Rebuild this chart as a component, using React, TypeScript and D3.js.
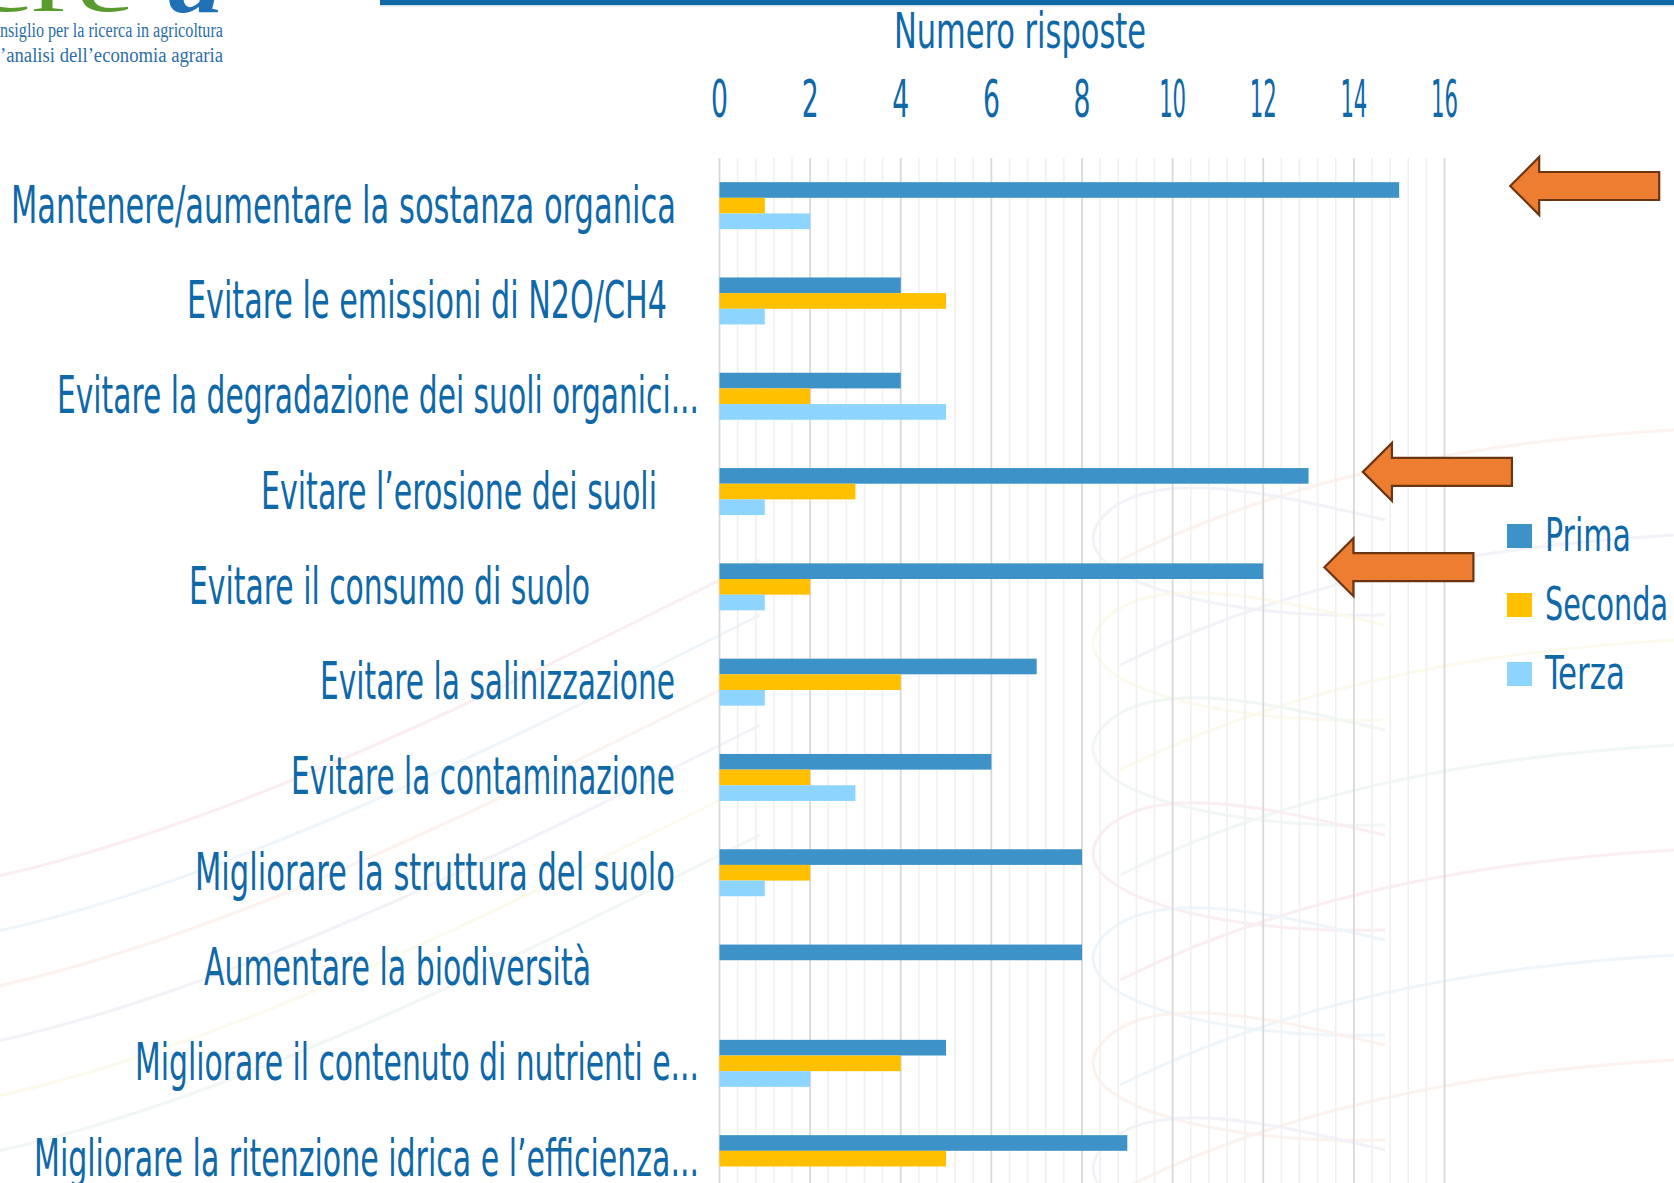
import React, { useEffect } from 'react';
import * as d3 from 'd3';

// data
const categories = [
  'Mantenere/aumentare la sostanza organica',
  'Evitare le emissioni di N2O/CH4',
  'Evitare la degradazione dei suoli organici...',
  'Evitare l’erosione dei suoli',
  'Evitare il consumo di suolo',
  'Evitare la salinizzazione',
  'Evitare la contaminazione',
  'Migliorare la struttura del suolo',
  'Aumentare la biodiversità',
  'Migliorare il contenuto di nutrienti e...',
  'Migliorare la ritenzione idrica e l’efficienza...',
];
const prima = [15, 4, 4, 13, 12, 7, 6, 8, 8, 5, 9];
const seconda = [1, 5, 2, 3, 2, 4, 2, 2, 0, 4, 5];
const terza = [2, 1, 5, 1, 1, 1, 3, 1, 0, 2, 0];
const seriesNames = ['Prima', 'Seconda', 'Terza'];
const xTicks = [0, 2, 4, 6, 8, 10, 12, 14, 16];
const axisTitle = 'Numero risposte';
// arrows: category index and where the tip sits on the value axis
const arrowCats = [0, 3, 4];
const arrowAt = [17.45, 14.2, 13.35];

const W = 1674;
const H = 1183;
const COLORS = ['#3d93c7', '#ffc000', '#8dd4fe'];
const TEXT = '#0f69a8';
const FONT = "'Liberation Sans Narrow', 'DejaVu Sans Condensed', 'Roboto Condensed', 'Liberation Sans', 'DejaVu Sans', sans-serif";

// left/right extents of the category labels (they carry trailing blanks in the source)
const labelBox: [number, number][] = [
  [11, 676], [187, 667], [57, 699], [261, 657], [189, 590], [320, 675],
  [291, 675], [195, 675], [204, 591], [135, 699], [34, 699],
];

const App = () => {
  useEffect(() => {
    document.body.style.margin = '0';
  }, []);

  const x = d3.scaleLinear().domain([0, 16]).range([719.5, 1444.5]);
  const step = 95.3;
  const y = d3.scaleBand<number>()
    .domain(d3.range(categories.length))
    .range([158, 158 + step * categories.length])
    .paddingInner(0.507)
    .paddingOuter(0.2535);
  const ySub = d3.scaleBand<number>().domain([0, 1, 2]).range([0, y.bandwidth()]);
  const series = [prima, seconda, terza];

  const minor = d3.range(0, 41).map(i => i * 0.4);

  // faint decorative swirls of the slide template
  const swirlColors = ['#f3c6cf', '#c9e2f4', '#f6d3c4', '#d8d4ec', '#f7ecc0', '#cfe3d5'];
  const leftSwirls = [0, 1, 2, 3, 4, 5].map(i => {
    const o = i * 55;
    return `M -20 ${880 + o} C 220 ${830 + o}, 480 ${700 + o}, 760 ${560 + o}`;
  });
  const rightSwirls = [0, 1, 2, 3, 4, 5, 6].map(i => {
    const o = i * 105;
    return `M 1120 ${560 + o} C 1300 ${470 + o}, 1500 ${440 + o}, 1674 ${430 + o}`;
  });
  // open loops: start on the right, sweep round the left and come back flat
  const loops = [0, 1, 2, 3, 4, 5, 6].map(i => {
    const cy = 560 + i * 105;
    return `M 1385 ${cy + 55} C 1200 ${cy + 60}, 1040 ${cy + 10}, 1110 ${cy - 50} C 1160 ${cy - 90}, 1260 ${cy - 70}, 1385 ${cy - 40}`;
  });

  const arrowPath = (tx: number, ty: number) =>
    `M ${tx} ${ty} L ${tx + 29} ${ty - 29} L ${tx + 29} ${ty - 14} L ${tx + 149} ${ty - 14} ` +
    `L ${tx + 149} ${ty + 14} L ${tx + 29} ${ty + 14} L ${tx + 29} ${ty + 29} Z`;

  return (
    <svg width={W} height={H} style={{ display: 'block', background: '#fff' }} fontFamily={FONT}>
      {/* template background */}
      <g fill="none" strokeWidth={3} opacity={0.28}>
        {leftSwirls.map((d, i) => <path key={'l' + i} d={d} stroke={swirlColors[i % 6]} />)}
        {rightSwirls.map((d, i) => <path key={'r' + i} d={d} stroke={swirlColors[(i + 2) % 6]} />)}
        {loops.map((d, i) => <path key={'e' + i} d={d} stroke={swirlColors[(i + 3) % 6]} />)}
      </g>

      {/* header */}
      <rect x={380} y={0} width={W - 380} height={5} fill="#1368a8" />
      <rect x={380} y={5} width={W - 380} height={1.5} fill="#cfe2f0" />
      <g fontFamily="'Liberation Serif', 'DejaVu Serif', serif">
        <text x={-28} y={11} fontSize={80} fill="#5a9b2f" textLength={163} lengthAdjust="spacingAndGlyphs">cre</text>
        <text x={168} y={12} fontSize={80} fontWeight="bold" fontStyle="italic" fill="#1f70b4" textLength={55} lengthAdjust="spacingAndGlyphs">a</text>
        <text x={0} y={37} fontSize={20} fill="#2b6ea6" textLength={223} lengthAdjust="spacingAndGlyphs">nsiglio per la ricerca in agricoltura</text>
        <text x={0} y={62} fontSize={20} fill="#2b6ea6" textLength={223} lengthAdjust="spacingAndGlyphs">’analisi  dell’economia  agraria</text>
      </g>

      {/* grid */}
      <g>
        {minor.map((v, i) => (
          <line key={i} x1={x(v)} x2={x(v)} y1={158} y2={H}
            stroke={i % 5 === 0 ? '#d9d9d9' : '#f0f0f0'} strokeWidth={i % 5 === 0 ? 1.8 : 1.6} />
        ))}
      </g>

      {/* axis title and ticks */}
      <text x={1020} y={47.5} fontSize={49} fill={TEXT} textAnchor="middle" textLength={252} lengthAdjust="spacingAndGlyphs">{axisTitle}</text>
      {xTicks.map(t => (
        <text key={t} x={x(t)} y={116.5} fontSize={51} fill={TEXT} textAnchor="middle"
          textLength={String(t).length > 1 ? 27 : 17} lengthAdjust="spacingAndGlyphs">{t}</text>
      ))}

      {/* bars */}
      {series.map((vals, s) => (
        <g key={s} fill={COLORS[s]}>
          {vals.map((v, i) => (
            <rect key={i} x={x(0)} y={(y(i) as number) + (ySub(s) as number)}
              width={x(v) - x(0)} height={ySub.bandwidth()} />
          ))}
        </g>
      ))}

      {/* category labels */}
      {categories.map((c, i) => (
        <text key={c} x={labelBox[i][0]} y={(y(i) as number) + y.bandwidth() / 2 + 17}
          fontSize={51} fill={TEXT} textLength={labelBox[i][1] - labelBox[i][0]} lengthAdjust="spacingAndGlyphs">{c}</text>
      ))}

      {/* arrows */}
      {arrowCats.map((c, k) => (
        <path key={k} d={arrowPath(x(arrowAt[k]), (y(c) as number) + ySub.bandwidth() / 2 - 4)}
          fill="#ed7d31" stroke="#6b3512" strokeWidth={2.2} strokeLinejoin="miter" />
      ))}

      {/* legend */}
      {seriesNames.map((n, i) => (
        <g key={n}>
          <rect x={1507} y={524 + i * 69} width={25} height={24} fill={COLORS[i]} />
          <text x={1545} y={551 + i * 69} fontSize={47} fill={TEXT}
            textLength={[86, 123, 80][i]} lengthAdjust="spacingAndGlyphs">{n}</text>
        </g>
      ))}
    </svg>
  );
};

export default App;
